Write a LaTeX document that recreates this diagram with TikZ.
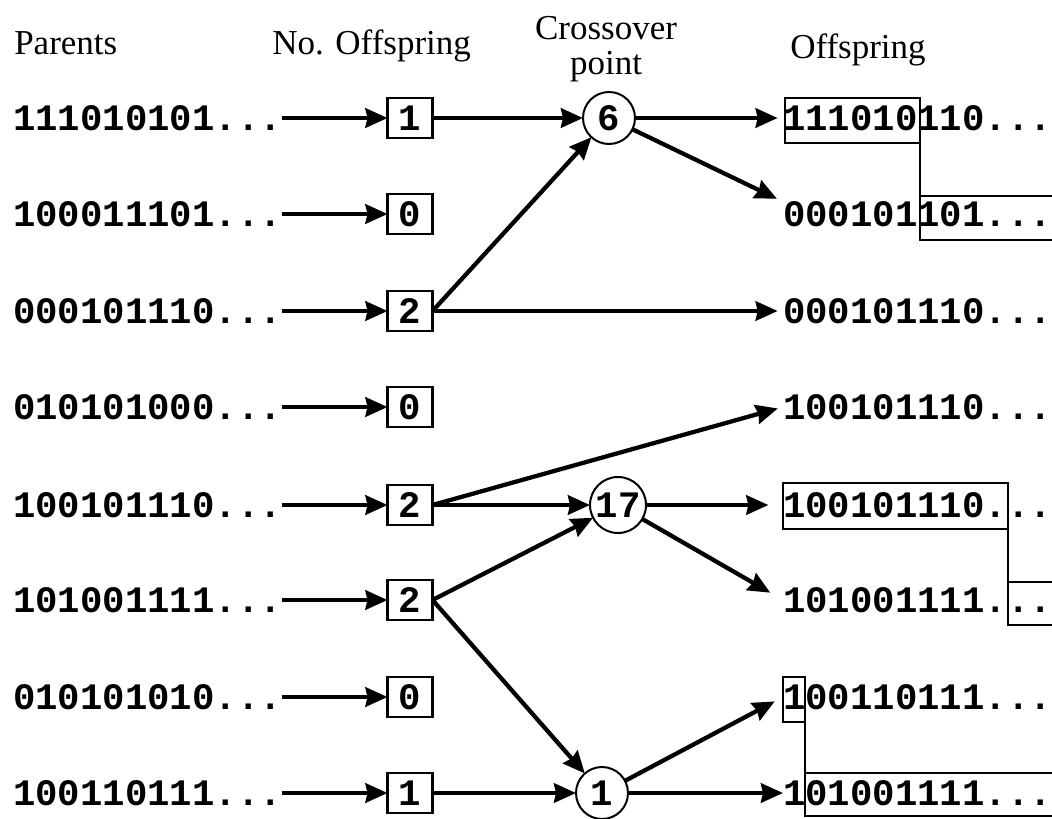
\documentclass[tikz,border=0pt]{standalone}
\usepackage{fontspec}
\setmainfont{Liberation Serif}
\newfontfamily\monofnt{Liberation Mono}
\usetikzlibrary{arrows.meta}
\newcommand{\tdots}{...}
\tikzset{
  bits/.style={font=\monofnt\bfseries\fontsize{28}{30}\selectfont, inner sep=0pt, outer sep=0pt, text height=18.5pt, text depth=0pt},
  numbox/.style={bits, draw, line width=1.7pt, minimum width=33.75pt, minimum height=30pt},
  cross/.style={bits, circle, draw, line width=1.5pt, minimum size=39pt},
  head/.style={font=\fontsize{26.25}{26}\selectfont, inner sep=0pt},
  arr/.style={line width=3.2pt, -{Stealth[length=16.5pt,width=14.5pt,inset=1.5pt]}},
  cut/.style={line width=1.3pt}
}
\begin{document}
\begin{tikzpicture}[x=0.75pt,y=-0.75pt]
\useasboundingbox (0,0) rectangle (1052,818);
% headers
\node[head, anchor=base west] (hp) at (14,54) {Parents};
\node[head, anchor=base west] (hn) at (272,54) {No. Offspring};
\node[head, anchor=north, align=center] (hc) at (606,16) {Crossover\\point};
\node[head, anchor=base west] (ho) at (790,58) {Offspring};
% parents
\foreach \i/\y/\s in {1/118/111010101,2/214/100011101,3/311/000101110,4/407/010101000,5/505/100101110,6/600/101001111,7/697/010101010,8/793/100110111}{
  \node[bits, anchor=west] (p\i) at (13,\y) {\s\tdots};
}
% number boxes
\foreach \i/\y/\n in {1/118/1,2/214/0,3/311/2,4/407/0,5/505/2,6/600/2,7/697/0,8/793/1}{
  \node[numbox] (b\i) at (410,\y) {\n};
  \draw[arr] (p\i.east) -- (b\i.west);
}
% crossover points
\node[cross] (c6) at (609,118) {6};
\node[cross, minimum size=42pt] (c17) at (618,505) {17};
\node[cross] (c1) at (602,793) {1};
% offspring
\foreach \i/\y/\s in {1/118/111010110,2/214/000101101,3/311/000101110,4/407/100101110,5/505/100101110,6/600/101001111,7/697/100110111,8/793/101001111}{
  \node[bits, anchor=west] (o\i) at (783,\y) {\s\tdots};
}
% crossover boxes
\draw[cut] (785,98) rectangle (920,143);
\draw[cut] (920,143) -- (920,196);
\draw[cut] (920,196) rectangle (1080,240);
\draw[cut] (783,483) rectangle (1008,529);
\draw[cut] (1008,529) -- (1008,582);
\draw[cut] (1008,582) rectangle (1080,625);
\draw[cut] (783,677) rectangle (805,722);
\draw[cut] (805,722) -- (805,773);
\draw[cut] (805,773) rectangle (1080,816);
% connectors
\draw[arr] (b1) -- (c6);
\draw[arr] (b3.east) -- (c6);
\draw[arr, shorten >=4pt] (b3) -- (o3);
\draw[arr, shorten >=4pt] (c6) -- (o1);
\draw[arr, shorten >=5pt] (c6) -- (o2.north west);
\draw[arr, shorten >=4pt] (b5.east) -- (o4.west);
\draw[arr] (b5) -- (c17);
\draw[arr] (b6.east) -- (c17);
\draw[arr] (b6.east) -- (c1);
\draw[arr, shorten >=11pt] (c17) -- (o5);
\draw[arr, shorten >=11pt] (c17) -- (o6.west);
\draw[arr] (b8) -- (c1);
\draw[arr, shorten >=7pt] (c1) -- (o7.west);
\draw[arr] (c1) -- (o8);
\end{tikzpicture}
\end{document}
